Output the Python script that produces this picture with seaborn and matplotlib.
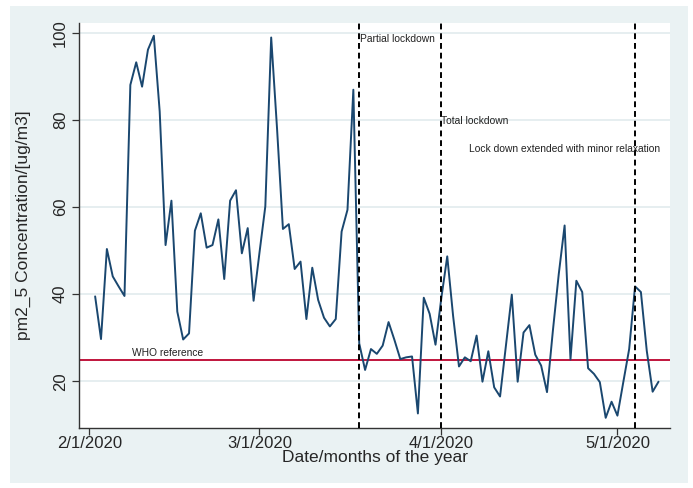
import pandas as pd
import matplotlib.pyplot as plt
from matplotlib.patches import Rectangle
import seaborn as sns

# daily pm2.5 readings, 2 Feb 2020 -> 8 May 2020
start_date = '2020-02-02'
pm25 = [39.5, 29.7, 50.4, 44.1, 41.8, 39.6, 88.1, 93.3, 87.7, 96.2,
        99.4, 82.0, 51.3, 61.5, 36.0, 29.6, 31.0, 54.6, 58.6, 50.7,
        51.3, 57.2, 43.5, 61.5, 63.9, 49.4, 55.2, 38.5, 49.5, 60.2,
        99.0, 78.0, 55.0, 56.1, 45.8, 47.5, 34.3, 46.1, 38.7, 34.6,
        32.6, 34.3, 54.4, 59.4, 87.0, 28.7, 22.6, 27.4, 26.3, 28.2,
        33.6, 29.5, 25.1, 25.5, 25.7, 12.6, 39.2, 35.5, 28.4, 39.2,
        48.7, 35.0, 23.4, 25.5, 24.6, 30.5, 19.9, 26.9, 18.6, 16.5,
        28.2, 39.9, 19.9, 31.2, 32.9, 26.1, 23.6, 17.5, 31.6, 44.6,
        55.8, 25.0, 43.1, 40.5, 23.0, 21.7, 19.8, 11.6, 15.3, 12.1,
        19.8, 27.4, 41.8, 40.5, 27.0, 17.6, 19.9]

who_limit = 25
event_dates = ['2020-03-18', '2020-04-01', '2020-05-04']
event_labels = ['Partial lockdown', 'Total lockdown',
                'Lock down extended with minor relaxation']
event_label_x = ['2020-03-18 02:00', '2020-04-01 00:00', '2020-04-05 19:00']
event_label_y = [98.7, 79.8, 73.3]

tick_dates = ['2020-02-01', '2020-03-01', '2020-04-01', '2020-05-01']
tick_labels = ['2/1/2020', '3/1/2020', '4/1/2020', '5/1/2020']
y_ticks = [20, 40, 60, 80, 100]

df = pd.DataFrame({'date': pd.date_range(start_date, periods=len(pm25), freq='D'),
                   'pm25': pm25})

sns.set_style('white')
plt.rcParams['font.family'] = ['Liberation Sans', 'DejaVu Sans']

bg = '#EAF2F3'
fig = plt.figure(figsize=(6.93, 4.88), dpi=100)
fig.patches.append(Rectangle((10 / 693, 1 - 483 / 488), 678 / 693, 477 / 488,
                             transform=fig.transFigure, facecolor=bg,
                             edgecolor='none', zorder=-10))
ax = fig.add_axes([79 / 693, 1 - 428 / 488, 591 / 693, 405.3 / 488])
ax.set_facecolor('white')

# grid lines
for v in y_ticks:
    ax.axhline(v, color='#E1EBEE', lw=1.2, zorder=0)

sns.lineplot(data=df, x='date', y='pm25', color='#1A476F', lw=1.4, ax=ax, zorder=3)

ax.axhline(who_limit, color='#C0143C', lw=1.4, zorder=2)
ax.text(pd.Timestamp('2020-02-08 06:00'), who_limit + 0.3, 'WHO reference',
        fontsize=7.4, ha='left', va='bottom', color='#222222')

for d in event_dates:
    ax.axvline(pd.Timestamp(d), color='black', ls=(0, (3, 2)), lw=1.4, zorder=4)
for xl, yl, txt in zip(event_label_x, event_label_y, event_labels):
    ax.text(pd.Timestamp(xl), yl, txt, fontsize=7.4, ha='left', va='center',
            color='#222222', zorder=5)

ax.set_xlim(pd.Timestamp('2020-01-30 06:00'), pd.Timestamp('2020-05-09 23:00'))
ax.set_ylim(9.26, 102.4)
ax.set_xticks([pd.Timestamp(t) for t in tick_dates])
ax.set_xticklabels(tick_labels, fontsize=12)
ax.set_yticks(y_ticks)
ax.set_yticklabels([str(v) for v in y_ticks], fontsize=12, rotation=90, va='center')

ax.set_xlabel('Date/months of the year', fontsize=12.5, labelpad=-1)
ax.set_ylabel('pm2_5 Concentration/[ug/m3]', fontsize=12.5, labelpad=16)

for s in ['top', 'right']:
    ax.spines[s].set_visible(False)
for s in ['left', 'bottom']:
    ax.spines[s].set_color('#333333')
    ax.spines[s].set_linewidth(1.0)
ax.tick_params(axis='both', which='major', direction='out', length=5,
               width=0.9, color='#333333', bottom=True, left=True)
ax.tick_params(axis='x', pad=1)
ax.tick_params(axis='y', pad=3)

fig.savefig('out.png', dpi=100, facecolor='white')
